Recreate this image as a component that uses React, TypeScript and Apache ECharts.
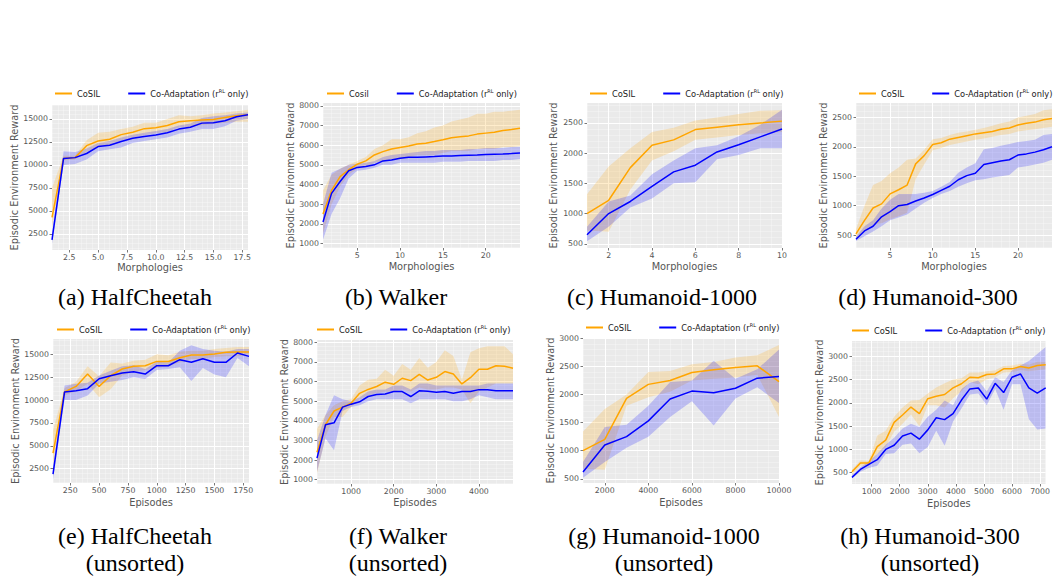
import React, { useEffect, useRef } from "react";
import * as echarts from "echarts";

// ---------------- (a) HalfCheetah ----------------
const aX = [1, 2, 3, 4, 5, 6, 7, 8, 9, 10, 11, 12, 13, 14, 15, 16, 17, 18];
const aCosil = [4300, 10700, 10800, 12100, 12600, 12800, 13300, 13550, 13950, 14050, 14300, 14700, 14800, 14900, 14950, 15150, 15350, 15450];
const aCosilLo = [3200, 10500, 10600, 11450, 12000, 12200, 12700, 13000, 13250, 13450, 13600, 14100, 14150, 14350, 14450, 14600, 14700, 14700];
const aCosilHi = [7500, 11000, 11000, 12700, 13500, 13600, 13900, 14150, 14600, 14600, 15000, 15400, 15300, 15400, 15600, 15700, 15850, 16000];
const aCoad = [1850, 10700, 10800, 11250, 12000, 12150, 12550, 12900, 13100, 13250, 13500, 13900, 14100, 14550, 14600, 14800, 15250, 15450];
const aCoadLo = [1400, 10000, 10100, 10600, 11500, 11700, 11900, 12400, 12600, 12800, 13000, 13400, 13600, 13900, 13900, 14200, 14800, 15000];
const aCoadHi = [2600, 11500, 11400, 11800, 12400, 12600, 13000, 13300, 13500, 13700, 13900, 14300, 14500, 15100, 15300, 15400, 15600, 15700];
const aXTicks = [2.5, 5, 7.5, 10, 12.5, 15, 17.5];
const aYTicks = [2500, 5000, 7500, 10000, 12500, 15000];

// ---------------- (b) Walker ----------------
const bX = [1, 2, 3, 4, 5, 6, 7, 8, 9, 10, 11, 12, 13, 14, 15, 16, 17, 18, 19, 20, 21, 22, 23, 24];
const bCosil = [2500, 3700, 4400, 4750, 5030, 5200, 5500, 5670, 5800, 5880, 5960, 6060, 6100, 6180, 6270, 6370, 6420, 6470, 6560, 6610, 6660, 6740, 6790, 6860];
const bCosilLo = [1500, 3000, 3900, 4500, 4800, 4900, 5100, 5200, 5300, 5300, 5400, 5500, 5500, 5500, 5600, 5700, 5700, 5700, 5800, 5800, 5800, 5900, 5900, 5950];
const bCosilHi = [3700, 4500, 4800, 5000, 5200, 5400, 5800, 6000, 6300, 6300, 6400, 6600, 6700, 6900, 7000, 7200, 7300, 7400, 7600, 7600, 7700, 7700, 7750, 7800];
const bCoad = [2100, 3550, 4150, 4700, 4870, 4910, 5000, 5200, 5250, 5330, 5380, 5380, 5400, 5420, 5450, 5450, 5470, 5490, 5500, 5520, 5540, 5550, 5570, 5600];
const bCoadLo = [1200, 2500, 3300, 4300, 4700, 4750, 4850, 5000, 5000, 5100, 5100, 5100, 5100, 5100, 5150, 5150, 5150, 5200, 5200, 5200, 5200, 5250, 5250, 5300];
const bCoadHi = [3000, 4600, 4800, 5000, 5050, 5100, 5200, 5400, 5500, 5550, 5600, 5650, 5700, 5700, 5750, 5750, 5750, 5800, 5800, 5850, 5850, 5850, 5900, 5900];
const bXTicks = [5, 10, 15, 20];
const bYTicks = [1000, 2000, 3000, 4000, 5000, 6000, 7000, 8000];

// ---------------- (c) Humanoid-1000 ----------------
const cX = [1, 2, 3, 4, 5, 6, 7, 8, 9, 10];
const cCosil = [1000, 1220, 1760, 2130, 2220, 2390, 2430, 2470, 2500, 2530];
const cCosilLo = [720, 700, 1400, 1880, 2030, 2220, 2260, 2300, 2330, 2350];
const cCosilHi = [1320, 1780, 2080, 2350, 2420, 2540, 2590, 2650, 2700, 2710];
const cCoad = [650, 1000, 1200, 1450, 1690, 1800, 2020, 2140, 2270, 2400];
const cCoadLo = [540, 780, 1100, 1250, 1500, 1520, 1900, 1970, 2080, 2080];
const cCoadHi = [780, 1200, 1300, 1650, 1880, 2080, 2130, 2280, 2470, 2720];
const cXTicks = [2, 4, 6, 8, 10];
const cYTicks = [500, 1000, 1500, 2000, 2500];

// ---------------- (d) Humanoid-300 ----------------
const dX = [1, 2, 3, 4, 5, 6, 7, 8, 9, 10, 11, 12, 13, 14, 15, 16, 17, 18, 19, 20, 21, 22, 23, 24];
const dCosil = [520, 750, 960, 1030, 1200, 1270, 1350, 1710, 1850, 2040, 2070, 2130, 2160, 2190, 2220, 2240, 2260, 2300, 2320, 2370, 2400, 2420, 2460, 2480];
const dCosilLo = [420, 580, 680, 700, 770, 820, 880, 1450, 1700, 1940, 1980, 2030, 2060, 2090, 2120, 2140, 2170, 2200, 2220, 2260, 2280, 2300, 2320, 2340];
const dCosilHi = [600, 1000, 1350, 1420, 1550, 1650, 1780, 1800, 1950, 2130, 2150, 2200, 2240, 2260, 2290, 2320, 2360, 2400, 2430, 2500, 2530, 2560, 2620, 2640];
const dCoad = [430, 570, 650, 810, 900, 1000, 1020, 1080, 1130, 1190, 1260, 1330, 1440, 1510, 1550, 1700, 1730, 1760, 1780, 1860, 1880, 1910, 1950, 2000];
const dCoadLo = [400, 480, 560, 650, 750, 800, 850, 950, 1050, 1130, 1200, 1250, 1320, 1380, 1430, 1450, 1480, 1500, 1520, 1650, 1670, 1700, 1730, 1780];
const dCoadHi = [470, 650, 750, 950, 1100, 1200, 1200, 1200, 1220, 1250, 1320, 1400, 1560, 1650, 1720, 1960, 1980, 2020, 2050, 2080, 2100, 2120, 2200, 2220];
const dXTicks = [5, 10, 15, 20];
const dYTicks = [500, 1000, 1500, 2000, 2500];

// ---------------- (e) HalfCheetah (unsorted) ----------------
const eX = [100, 200, 300, 400, 500, 600, 700, 800, 900, 1000, 1100, 1200, 1300, 1400, 1500, 1600, 1700, 1800];
const eCosil = [4200, 10900, 11500, 12850, 11500, 12670, 13400, 13690, 13760, 14230, 14230, 14640, 14930, 14930, 15040, 15220, 15250, 15250];
const eCosilLo = [2800, 10500, 11000, 11800, 10300, 11200, 12700, 13100, 13300, 13500, 13700, 14100, 14500, 14500, 14700, 14800, 14800, 14900];
const eCosilHi = [6700, 11300, 12000, 13700, 12600, 14100, 14000, 14300, 14400, 15000, 14900, 15300, 15400, 15400, 15600, 15700, 15800, 15800];
const eCoad = [1900, 10880, 11030, 11250, 12340, 12670, 12960, 13100, 12850, 13760, 13760, 14420, 14130, 14530, 14130, 14130, 15150, 14780];
const eCoadLo = [1300, 10000, 10000, 10500, 11800, 12000, 12200, 12500, 12300, 13300, 13400, 13600, 12100, 13500, 12800, 12500, 14600, 13700];
const eCoadHi = [2600, 11600, 11800, 11900, 12700, 13200, 13700, 13800, 13400, 14200, 14100, 15400, 16000, 15600, 15400, 15300, 15600, 15600];
const eXTicks = [250, 500, 750, 1000, 1250, 1500, 1750];
const eYTicks = [2500, 5000, 7500, 10000, 12500, 15000];

// ---------------- (f) Walker (unsorted) ----------------
const fX = [200, 400, 600, 800, 1000, 1200, 1400, 1600, 1800, 2000, 2200, 2400, 2600, 2800, 3000, 3200, 3400, 3600, 3800, 4000, 4200, 4400, 4600, 4800];
const fCosil = [2400, 3800, 4500, 4700, 4900, 5400, 5600, 5750, 5970, 5860, 6170, 6050, 6370, 6080, 6220, 6510, 6390, 5880, 6200, 6630, 6630, 6810, 6780, 6680];
const fCosilLo = [1300, 3200, 4200, 4200, 4700, 5100, 5300, 5400, 5500, 5500, 5600, 5500, 5700, 5600, 5600, 5700, 5700, 5600, 4900, 5500, 5700, 5900, 5900, 5900];
const fCosilHi = [3600, 4300, 4800, 5000, 5100, 5800, 6100, 6150, 6600, 6300, 6900, 6600, 7200, 6700, 7000, 7600, 7300, 6100, 7500, 7700, 7800, 7800, 7800, 7400];
const fCoad = [2100, 3800, 3900, 4700, 4850, 4970, 5240, 5340, 5370, 5490, 5490, 5240, 5530, 5510, 5460, 5490, 5410, 5490, 5490, 5590, 5580, 5530, 5530, 5530];
const fCoadLo = [1400, 3100, 2500, 4500, 4700, 4800, 5000, 5100, 5100, 5100, 5100, 4900, 5100, 5100, 5100, 5100, 5000, 5000, 5100, 5300, 5200, 5100, 5100, 5100];
const fCoadHi = [3000, 4300, 5300, 5100, 5000, 5200, 5500, 5600, 5600, 5800, 5800, 5600, 5900, 5900, 5800, 5800, 5800, 5800, 5800, 5800, 5900, 5900, 5900, 5900];
const fXTicks = [1000, 2000, 3000, 4000];
const fYTicks = [1000, 2000, 3000, 4000, 5000, 6000, 7000, 8000];

// ---------------- (g) Humanoid-1000 (unsorted) ----------------
const gX = [1000, 2000, 3000, 4000, 5000, 6000, 7000, 8000, 9000, 10000];
const gCosil = [1000, 1200, 1930, 2180, 2250, 2390, 2440, 2480, 2510, 2230];
const gCosilLo = [680, 660, 1800, 1950, 2050, 2250, 2280, 2300, 2350, 1600];
const gCosilHi = [1340, 1740, 2000, 2400, 2420, 2540, 2580, 2660, 2700, 2880];
const gCoad = [620, 1100, 1250, 1530, 1920, 2060, 2030, 2110, 2290, 2320];
const gCoadLo = [520, 800, 1050, 1250, 1600, 1880, 1450, 1930, 2130, 1850];
const gCoadHi = [800, 1420, 1460, 1800, 2220, 2250, 2600, 2280, 2450, 2800];
const gXTicks = [2000, 4000, 6000, 8000, 10000];
const gYTicks = [500, 1000, 1500, 2000, 2500, 3000];

// ---------------- (h) Humanoid-300 (unsorted) ----------------
const hX = [300, 600, 900, 1200, 1500, 1800, 2100, 2400, 2700, 3000, 3300, 3600, 3900, 4200, 4500, 4800, 5100, 5400, 5700, 6000, 6300, 6600, 6900, 7200];
const hCosil = [520, 710, 710, 1060, 1200, 1580, 1740, 1910, 1770, 2090, 2140, 2180, 2320, 2410, 2550, 2540, 2610, 2620, 2730, 2730, 2780, 2750, 2800, 2820];
const hCosilLo = [450, 650, 650, 900, 1050, 1380, 1550, 1750, 1500, 1950, 1950, 1900, 2100, 2250, 2450, 2400, 2500, 2550, 2650, 2660, 2700, 2680, 2700, 2720];
const hCosilHi = [570, 760, 750, 1300, 1400, 1700, 1900, 2050, 2060, 2200, 2330, 2420, 2500, 2530, 2650, 2650, 2680, 2700, 2790, 2800, 2840, 2820, 2880, 2880];
const hCoad = [400, 570, 680, 780, 1000, 1090, 1290, 1350, 1220, 1420, 1680, 1640, 1770, 2060, 2300, 2320, 2080, 2420, 2220, 2550, 2620, 2320, 2210, 2320];
const hCoadLo = [380, 520, 600, 650, 900, 920, 1100, 1130, 920, 1050, 1400, 1080, 1600, 1880, 2180, 2200, 1950, 2300, 1850, 2400, 2400, 1650, 1430, 1450];
const hCoadHi = [450, 620, 740, 900, 1100, 1250, 1450, 1550, 1480, 1700, 1850, 2050, 1950, 2300, 2430, 2480, 2250, 2550, 2450, 2700, 2800, 2900, 3050, 3200];
const hXTicks = [1000, 2000, 3000, 4000, 5000, 6000, 7000];
const hYTicks = [500, 1000, 1500, 2000, 2500, 3000];

// ---------------- texts ----------------
const captions = [
  ["(a) HalfCheetah"],
  ["(b) Walker"],
  ["(c) Humanoid-1000"],
  ["(d) Humanoid-300"],
  ["(e) HalfCheetah", "(unsorted)"],
  ["(f) Walker", "(unsorted)"],
  ["(g) Humanoid-1000", "(unsorted)"],
  ["(h) Humanoid-300", "(unsorted)"],
];
const cosilNames = ["CoSIL", "Cosil", "CoSIL", "CoSIL", "CoSIL", "CoSIL", "CoSIL", "CoSIL"];
const coadName = "Co-Adaptation";
const xLabels = ["Morphologies", "Morphologies", "Morphologies", "Morphologies", "Episodes", "Episodes", "Episodes", "Episodes"];
const yLabel = "Episodic Environment Reward";

const panels = [
  { x: aX, cosil: aCosil, cosilLo: aCosilLo, cosilHi: aCosilHi, coad: aCoad, coadLo: aCoadLo, coadHi: aCoadHi, xTicks: aXTicks, yTicks: aYTicks },
  { x: bX, cosil: bCosil, cosilLo: bCosilLo, cosilHi: bCosilHi, coad: bCoad, coadLo: bCoadLo, coadHi: bCoadHi, xTicks: bXTicks, yTicks: bYTicks },
  { x: cX, cosil: cCosil, cosilLo: cCosilLo, cosilHi: cCosilHi, coad: cCoad, coadLo: cCoadLo, coadHi: cCoadHi, xTicks: cXTicks, yTicks: cYTicks },
  { x: dX, cosil: dCosil, cosilLo: dCosilLo, cosilHi: dCosilHi, coad: dCoad, coadLo: dCoadLo, coadHi: dCoadHi, xTicks: dXTicks, yTicks: dYTicks },
  { x: eX, cosil: eCosil, cosilLo: eCosilLo, cosilHi: eCosilHi, coad: eCoad, coadLo: eCoadLo, coadHi: eCoadHi, xTicks: eXTicks, yTicks: eYTicks },
  { x: fX, cosil: fCosil, cosilLo: fCosilLo, cosilHi: fCosilHi, coad: fCoad, coadLo: fCoadLo, coadHi: fCoadHi, xTicks: fXTicks, yTicks: fYTicks },
  { x: gX, cosil: gCosil, cosilLo: gCosilLo, cosilHi: gCosilHi, coad: gCoad, coadLo: gCoadLo, coadHi: gCoadHi, xTicks: gXTicks, yTicks: gYTicks },
  { x: hX, cosil: hCosil, cosilLo: hCosilLo, cosilHi: hCosilHi, coad: hCoad, coadLo: hCoadLo, coadHi: hCoadHi, xTicks: hXTicks, yTicks: hYTicks },
];

// ---------------- layout & style ----------------
const layouts = [
  { left: 52, top: 105, width: 196, height: 145, xmin: 1, xmax: 18, ymin: 760, ymax: 16520, xDec: 1, xMinor: 0.5, yMinor: 500, legLeft: 55, legTop: 88, yGap: 32, xGap: 12, capX: 135, capY: 297 },
  { left: 323, top: 103, width: 197, height: 145, xmin: 1, xmax: 24, ymin: 776, ymax: 8140, xDec: 0, xMinor: 1, yMinor: 200, legLeft: 327, legTop: 88, yGap: 26, xGap: 13, capX: 396, capY: 297 },
  { left: 587, top: 103, width: 195, height: 145, xmin: 1, xmax: 10, ymin: 430, ymax: 2830, xDec: 0, xMinor: 0.5, yMinor: 100, legLeft: 590, legTop: 88, yGap: 29, xGap: 13.5, capX: 662, capY: 297 },
  { left: 856, top: 103, width: 196, height: 145, xmin: 1, xmax: 24, ymin: 280, ymax: 2745, xDec: 0, xMinor: 1, yMinor: 100, legLeft: 859, legTop: 88, yGap: 28, xGap: 13.5, capX: 928, capY: 297 },
  { left: 53, top: 339, width: 196, height: 144, xmin: 100, xmax: 1800, ymin: 940, ymax: 16680, xDec: 0, xMinor: 50, yMinor: 500, legLeft: 57, legTop: 324, yGap: 31, xGap: 14, capX: 135, capY: 536 },
  { left: 317, top: 340, width: 196, height: 144, xmin: 200, xmax: 4800, ymin: 780, ymax: 8120, xDec: 0, xMinor: 200, yMinor: 200, legLeft: 317, legTop: 324, yGap: 27, xGap: 13.5, capX: 398, capY: 536 },
  { left: 583, top: 338, width: 196, height: 145, xmin: 1000, xmax: 10000, ymin: 425, ymax: 3005, xDec: 0, xMinor: 500, yMinor: 100, legLeft: 586, legTop: 322, yGap: 28, xGap: 14, capX: 664, capY: 536 },
  { left: 852, top: 341, width: 195, height: 143, xmin: 300, xmax: 7200, ymin: 258, ymax: 3328, xDec: 0, xMinor: 200, yMinor: 100, legLeft: 852, legTop: 325, yGap: 28, xGap: 14, capX: 930, capY: 536 },
];

const ORANGE = "#FFA500";
const BLUE = "#0000FF";
const ORANGE_BAND = "rgba(255,165,0,0.2)";
const BLUE_BAND = "rgba(0,0,255,0.2)";
const BG = "#EAEAEA";
const SANS = "DejaVu Sans";
const SERIF = "Liberation Serif";
const TICK_COLOR = "#555555";

function minorValues(min: number, max: number, step: number, majors: number[]) {
  const out: number[] = [];
  const start = Math.ceil(min / step - 1e-9);
  const end = Math.floor(max / step + 1e-9);
  for (let k = start; k <= end; k++) {
    const v = Math.round(k * step * 1000) / 1000;
    if (!majors.some((m) => Math.abs(m - v) < 1e-6)) out.push(v);
  }
  return out;
}

function buildOption() {
  const grid: any[] = [];
  const xAxis: any[] = [];
  const yAxis: any[] = [];
  const series: any[] = [];
  const legend: any[] = [];
  const graphic: any[] = [];

  panels.forEach((p, i) => {
    const L = layouts[i];
    grid.push({ left: L.left, top: L.top, width: L.width, height: L.height, show: true, backgroundColor: BG, borderWidth: 0 });

    const xm = minorValues(L.xmin, L.xmax, L.xMinor, p.xTicks);
    const ym = minorValues(L.ymin, L.ymax, L.yMinor, p.yTicks);

    xAxis.push({
      gridIndex: i, type: "value", min: L.xmin, max: L.xmax, position: "bottom",
      name: xLabels[i], nameLocation: "middle", nameGap: L.xGap,
      nameTextStyle: { color: TICK_COLOR, fontSize: 9.8, fontFamily: SANS },
      axisLine: { show: false },
      axisTick: { show: true, length: 2.5, lineStyle: { color: TICK_COLOR, width: 0.8 }, customValues: p.xTicks },
      axisLabel: { customValues: p.xTicks, color: TICK_COLOR, fontSize: 7.8, fontFamily: SANS, margin: 3,
        formatter: (v: number) => v.toFixed(L.xDec) },
      splitLine: { show: true, lineStyle: { color: "#FFFFFF", width: 1 } },
    });
    xAxis.push({
      gridIndex: i, type: "value", min: L.xmin, max: L.xmax, position: "top",
      axisLine: { show: false },
      axisTick: { show: false, customValues: xm },
      axisLabel: { show: false, customValues: xm },
      splitLine: { show: true, lineStyle: { color: "rgba(255,255,255,0.6)", width: 0.5 } },
    });
    yAxis.push({
      gridIndex: i, type: "value", min: L.ymin, max: L.ymax, position: "left",
      name: yLabel, nameLocation: "middle", nameGap: L.yGap,
      nameTextStyle: { color: TICK_COLOR, fontSize: 9.8, fontFamily: SANS },
      axisLine: { show: false },
      axisTick: { show: true, length: 2.5, lineStyle: { color: TICK_COLOR, width: 0.8 }, customValues: p.yTicks },
      axisLabel: { customValues: p.yTicks, color: TICK_COLOR, fontSize: 7.8, fontFamily: SANS, margin: 4,
        formatter: (v: number) => String(v) },
      splitLine: { show: true, lineStyle: { color: "#FFFFFF", width: 1 } },
    });
    yAxis.push({
      gridIndex: i, type: "value", min: L.ymin, max: L.ymax, position: "right",
      axisLine: { show: false },
      axisTick: { show: false, customValues: ym },
      axisLabel: { show: false, customValues: ym },
      splitLine: { show: true, lineStyle: { color: "rgba(255,255,255,0.6)", width: 0.5 } },
    });

    const xi = 2 * i;
    const yi = 2 * i;
    // Confidence band: one polygon per series built from the data through the axis scales
    const band = (lo: number[], hi: number[], color: string) => ({
      type: "custom", name: "band", xAxisIndex: xi, yAxisIndex: yi, silent: true, z: 1, clip: true,
      encode: { x: 0, y: [1, 2] },
      data: p.x.map((v, j) => [v, lo[j], hi[j]]),
      renderItem: (params: any, api: any) => {
        if (params.dataIndex !== 0) return null;
        const upper = p.x.map((v, j) => api.coord([v, hi[j]]));
        const lower = p.x.map((v, j) => api.coord([v, lo[j]])).reverse();
        const cs = params.coordSys;
        return {
          type: "group",
          clipPath: { type: "rect", shape: { x: cs.x, y: cs.y, width: cs.width, height: cs.height } },
          children: [
            { type: "polygon", shape: { points: upper.concat(lower) }, style: { fill: color, stroke: "none" } },
          ],
        };
      },
    });
    series.push(band(p.cosilLo, p.cosilHi, ORANGE_BAND));
    series.push(band(p.coadLo, p.coadHi, BLUE_BAND));
    series.push({ type: "line", name: cosilNames[i], xAxisIndex: xi, yAxisIndex: yi, symbol: "none", z: 3,
      color: ORANGE, lineStyle: { color: ORANGE, width: 1.5 }, data: p.x.map((v, j) => [v, p.cosil[j]]) });
    series.push({ type: "line", name: coadName, xAxisIndex: xi, yAxisIndex: yi, symbol: "none", z: 3,
      color: BLUE, lineStyle: { color: BLUE, width: 1.5 }, data: p.x.map((v, j) => [v, p.coad[j]]) });

    legend.push({
      data: [cosilNames[i], coadName], left: L.legLeft, top: L.legTop, padding: 0,
      icon: "rect", itemWidth: 17, itemHeight: 2, itemGap: 28, selectedMode: false,
      textStyle: {
        color: "#222", fontSize: 8.3, fontFamily: SANS,
        rich: {
          t: { color: "#222", fontSize: 8.3, fontFamily: SANS, lineHeight: 11 },
          s: { color: "#222", fontSize: 5, fontFamily: SANS, lineHeight: 6, verticalAlign: "top" },
        },
      },
      formatter: (name: string) => (name === coadName ? "{t|Co-Adaptation (r}{s|RL}{t| only)}" : name),
    });

    captions[i].forEach((line, k) => {
      graphic.push({
        type: "text", x: L.capX, y: L.capY + k * 27,
        style: { text: line, fontSize: 24, fontFamily: SERIF, fill: "#000", align: "center", verticalAlign: "middle" },
      });
    });
  });

  return { animation: false, backgroundColor: "#FFFFFF", grid, xAxis, yAxis, series, legend, graphic };
}

export default function App() {
  const ref = useRef<HTMLDivElement>(null);
  useEffect(() => {
    if (!ref.current) return;
    const chart = echarts.init(ref.current, null, { renderer: "svg" });
    chart.setOption(buildOption() as any);
    return () => chart.dispose();
  }, []);
  return <div ref={ref} style={{ position: "fixed", left: 0, top: 0, width: 1053, height: 581 }} />;
}
